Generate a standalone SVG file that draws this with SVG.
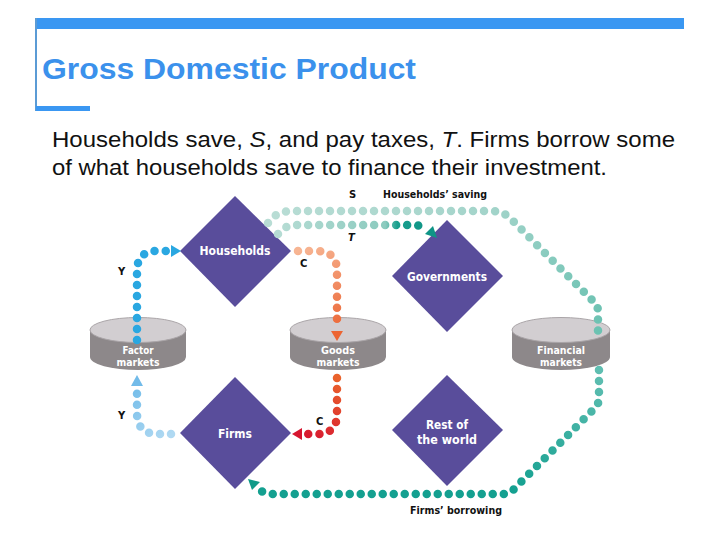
<svg xmlns="http://www.w3.org/2000/svg" width="720" height="540" viewBox="0 0 720 540">
<defs>
<style>
.title{font-family:"Liberation Sans",Arial,sans-serif;font-weight:bold;font-size:30px;fill:#3b91ec}
.sub{font-family:"Liberation Sans",Arial,sans-serif;font-size:22.5px;fill:#111}
.dl{font-family:"DejaVu Sans","Liberation Sans",sans-serif;font-weight:bold;font-size:12.5px;fill:#fff;text-anchor:middle}
.cl{font-family:"DejaVu Sans","Liberation Sans",sans-serif;font-weight:bold;font-size:11px;fill:#fff;text-anchor:middle}
.lb{font-family:"DejaVu Sans","Liberation Sans",sans-serif;font-weight:bold;font-size:10px;fill:#111}
.dia{fill:#594d9b}
.ctop{fill:#d2ced1;stroke:#aaa5a8;stroke-width:1}
.cside{fill:#8d888a}
.dots{fill:none;stroke-width:8.5;stroke-linecap:round}
</style>
<linearGradient id="gYb" gradientUnits="userSpaceOnUse" x1="171" y1="434" x2="137" y2="389"><stop offset="0" stop-color="#b0d9f2"/><stop offset="1" stop-color="#78bfea"/></linearGradient>
<linearGradient id="gCt" gradientUnits="userSpaceOnUse" x1="298" y1="251" x2="337" y2="327"><stop offset="0" stop-color="#f7b593"/><stop offset="1" stop-color="#ec6a3a"/></linearGradient>
<linearGradient id="gCb" gradientUnits="userSpaceOnUse" x1="337" y1="378" x2="305" y2="434"><stop offset="0" stop-color="#ea632c"/><stop offset="1" stop-color="#d81a30"/></linearGradient>
<linearGradient id="gS" gradientUnits="userSpaceOnUse" x1="268" y1="211" x2="598" y2="332"><stop offset="0" stop-color="#b9ddd5"/><stop offset="0.6" stop-color="#a3d4ca"/><stop offset="1" stop-color="#6cc2b2"/></linearGradient>
<linearGradient id="gT" gradientUnits="userSpaceOnUse" x1="278" y1="0" x2="427" y2="0"><stop offset="0" stop-color="#b6dcd4"/><stop offset="0.72" stop-color="#8ccbbf"/><stop offset="0.8" stop-color="#1a9f8e"/><stop offset="1" stop-color="#0f9486"/></linearGradient>
<linearGradient id="gF" gradientUnits="userSpaceOnUse" x1="599" y1="370" x2="520" y2="494"><stop offset="0" stop-color="#5fbeb1"/><stop offset="1" stop-color="#14a090"/></linearGradient>
</defs>

<g id="header">
<rect x="36" y="18" width="648" height="11" fill="#3a97f2"/>
<rect x="35" y="18" width="2" height="93" fill="#5b9bd5"/>
<rect x="36" y="106" width="54" height="5" fill="#3a97f2"/>
<text class="title" x="42" y="79" textLength="374" lengthAdjust="spacingAndGlyphs">Gross Domestic Product</text>
<text class="sub" x="52" y="147" textLength="623" lengthAdjust="spacingAndGlyphs">Households save, <tspan font-style="italic">S</tspan>, and pay taxes, <tspan font-style="italic">T</tspan>. Firms borrow some</text>
<text class="sub" x="52" y="175" textLength="555" lengthAdjust="spacingAndGlyphs">of what households save to finance their investment.</text>
</g>

<g id="households"><polygon class="dia" points="235,196 291,251 235,307 180,251"/><text class="dl" x="235" y="255" textLength="71" lengthAdjust="spacingAndGlyphs">Households</text></g>
<g id="governments"><polygon class="dia" points="447,220 503,276 447,332 392,276"/><text class="dl" x="447" y="281" textLength="80" lengthAdjust="spacingAndGlyphs">Governments</text></g>
<g id="firms"><polygon class="dia" points="235,377 291,433 235,489 180,433"/><text class="dl" x="235" y="438" textLength="34" lengthAdjust="spacingAndGlyphs">Firms</text></g>
<g id="rest-of-world"><polygon class="dia" points="447,375 503,430 447,486 392,430"/><text class="dl" x="447" y="429" font-size="12" textLength="42" lengthAdjust="spacingAndGlyphs">Rest of</text><text class="dl" x="447" y="444" font-size="12" textLength="60" lengthAdjust="spacingAndGlyphs">the world</text></g>

<g id="factor-markets"><path class="cside" d="M90,330 L90,357 A48,13 0 0 0 186,357 L186,330 Z"/><ellipse class="ctop" cx="138" cy="330" rx="48" ry="12.5"/><text class="cl" x="138" y="354" textLength="31" lengthAdjust="spacingAndGlyphs">Factor</text><text class="cl" x="138" y="366" textLength="43" lengthAdjust="spacingAndGlyphs">markets</text></g>
<g id="goods-markets"><path class="cside" d="M290,330 L290,357 A48,13 0 0 0 386,357 L386,330 Z"/><ellipse class="ctop" cx="338" cy="330" rx="48" ry="12.5"/><text class="cl" x="338" y="354" textLength="34" lengthAdjust="spacingAndGlyphs">Goods</text><text class="cl" x="338" y="366" textLength="43" lengthAdjust="spacingAndGlyphs">markets</text></g>
<g id="financial-markets"><path class="cside" d="M512,330 L512,357 A49,13 0 0 0 610,357 L610,330 Z"/><ellipse class="ctop" cx="561" cy="330" rx="49" ry="12.5"/><text class="cl" x="561" y="354" textLength="48" lengthAdjust="spacingAndGlyphs">Financial</text><text class="cl" x="561" y="366" textLength="42" lengthAdjust="spacingAndGlyphs">markets</text></g>

<g id="connectors" stroke-dasharray="0 11">
<path class="dots" stroke="#2aa7e1" d="M137,340 L137,271 Q137,251 157,251 L168,251"/>
<polygon fill="#2aa7e1" points="181,251 171,245 171,257"/>
<path class="dots" stroke="url(#gYb)" d="M171,434 L158,434 Q137,434 137,413 L137,389"/>
<polygon fill="#72bbe9" points="137,375 131,386 143,386"/>
<path class="dots" stroke="url(#gCt)" d="M298,251 L317,251 Q337,251 337,271 L337,327"/>
<polygon fill="#ec6533" points="337,341 331,331 343,331"/>
<path class="dots" stroke="url(#gCb)" d="M337,378 L337,414 Q337,434 317,434 L305,434"/>
<polygon fill="#d6152f" points="292,434 302,428 302,440"/>
<path class="dots" stroke="url(#gS)" d="M268,223 Q276,211 292,211 L492,211 Q503,211 511,219 L596,304 Q598,306 598,313 L598,332"/>
<path class="dots" stroke="url(#gT)" d="M278,234 Q284,225 298,225 L412,225 Q421,225 427,229"/>
<polygon fill="#0f9486" points="437,238 433,226 425,234"/>
<path class="dots" stroke="url(#gF)" d="M599,370 L599,398 Q599,404 594,409 L514,489 Q509,494 502,494 L272,494 Q263,494 258,488"/>
<polygon fill="#0f9a88" points="248,479 260,482 252,490"/>
<g stroke="none">
<text class="lb" x="349" y="198">S</text>
<text class="lb" x="383" y="198" textLength="104" lengthAdjust="spacingAndGlyphs">Households’ saving</text>
<text class="lb" x="348" y="241" font-style="italic">T</text>
<text class="lb" x="300" y="267">C</text>
<text class="lb" x="316" y="425">C</text>
<text class="lb" x="118" y="275">Y</text>
<text class="lb" x="118" y="419">Y</text>
<text class="lb" x="410" y="514" textLength="92" lengthAdjust="spacingAndGlyphs">Firms’ borrowing</text>
</g>
</g>
</svg>
